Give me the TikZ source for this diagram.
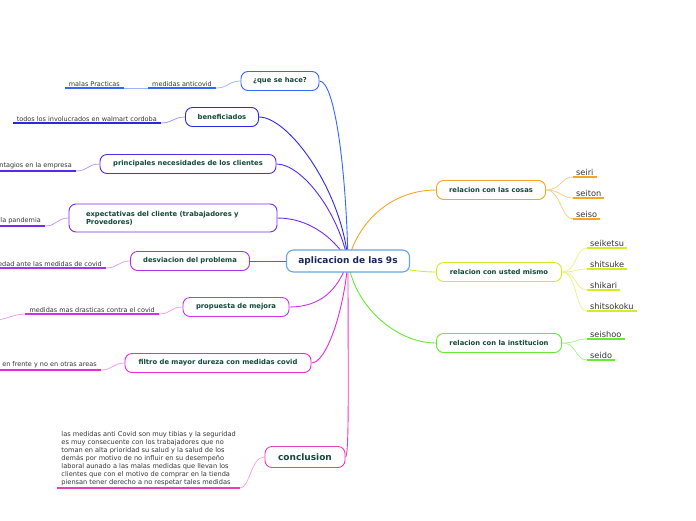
\documentclass[tikz,border=0pt]{standalone}
\usepackage{fontspec}
\setmainfont{DejaVu Sans}
\usetikzlibrary{backgrounds}
\definecolor{hubBlue}{RGB}{100,165,225}
\definecolor{hubText}{RGB}{25,40,90}
\definecolor{topicText}{RGB}{18,72,58}
\definecolor{leafGray}{RGB}{50,50,50}
\definecolor{brQue}{RGB}{51,102,255}
\definecolor{brBen}{RGB}{40,40,235}
\definecolor{brNec}{RGB}{90,40,235}
\definecolor{brExp}{RGB}{125,40,235}
\definecolor{brDes}{RGB}{170,50,235}
\definecolor{brPro}{RGB}{205,50,235}
\definecolor{brFil}{RGB}{235,40,220}
\definecolor{brCon}{RGB}{235,60,190}
\definecolor{brCos}{RGB}{245,166,35}
\definecolor{brUst}{RGB}{215,235,35}
\definecolor{brIns}{RGB}{100,235,50}
\tikzset{
  topic/.style={rectangle, rounded corners=7pt, draw, fill=white,
    line width=0.9pt, font=\fontsize{6.8}{8}\selectfont\bfseries,
    text=topicText, minimum height=19pt, inner sep=0pt, align=center},
  hub/.style={topic, draw=hubBlue, line width=1.1pt,
    font=\fontsize{9}{10}\selectfont\bfseries, text=hubText,
    minimum width=123pt, minimum height=22pt},
  leafL/.style={font=\fontsize{6.5}{7.5}\selectfont, text=leafGray,
    inner xsep=4pt, inner ysep=1.5pt, anchor=south east},
  leafR/.style={font=\fontsize{8.2}{9}\selectfont, text=leafGray,
    inner xsep=3pt, inner ysep=1.5pt, anchor=south west},
  ul/.style={line width=1.6pt},
  br/.style={line width=0.9pt},
  tw/.style={line width=0.7pt},
}

\begin{document}
\begin{tikzpicture}[x=1pt, y=-1pt]
\useasboundingbox (0,0) rectangle (696,520);

% central topic
\node[hub] (main) at (348,261) {aplicacion de las 9s};

% left topics
\node[topic, draw=brQue, minimum width=78pt] (que) at (280,81) {¿que se hace?};
\node[topic, draw=brBen, minimum width=73pt] (ben) at (222,117) {beneficiados};
\node[topic, draw=brNec, minimum width=176pt] (nec) at (188,164)
  {principales necesidades de los clientes};
\node[topic, draw=brExp, minimum width=208pt, minimum height=28pt,
      text width=174pt, align=left] (exp) at (173,218)
  {expectativas del cliente (trabajadores y\\Provedores)};
\node[topic, draw=brDes, minimum width=119pt] (des) at (190,261) {desviacion del problema};
\node[topic, draw=brPro, minimum width=106pt] (pro) at (236,307) {propuesta de mejora};
\node[topic, draw=brFil, minimum width=186pt] (fil) at (218,363)
  {filtro de mayor dureza con medidas covid};
\node[topic, draw=brCon, minimum width=80pt, minimum height=21pt,
      font=\fontsize{9}{10}\selectfont\bfseries] (con) at (305,457) {conclusion};

% right topics
\node[topic, draw=brCos, minimum width=109pt] (cos) at (491,190) {relacion con las cosas};
\node[topic, draw=brUst, minimum width=125pt] (ust) at (499,272) {relacion con usted mismo};
\node[topic, draw=brIns, minimum width=125pt] (ins) at (499,343) {relacion con la institucion};

% left leaves
\node[leafL] (queA) at (216,88) {medidas anticovid};
\node[leafL] (queB) at (124,88) {malas Practicas};
\node[leafL] (benA) at (161,123) {todos los involucrados en walmart cordoba};
\node[leafL] (necA) at (76,171) {ntagios en la empresa};
\node[leafL] (expA) at (45,226) {la pandemia};
\node[leafL] (desA) at (106,268) {edad ante las medidas de covid};
\node[leafL] (proA) at (159,314) {medidas mas drasticas contra el covid};
\coordinate (proOff) at (-6,320);
\node[leafL] (filA) at (101,370) {en frente y no en otras areas};
\node[leafL, font=\fontsize{6.6}{8.1}\selectfont, align=left] (conA) at (240,488)
  {las medidas anti Covid son muy tibias y la seguridad\\
   es muy consecuente con los trabajadores que no\\
   toman en alta prioridad su salud y la salud de los\\
   demás por motivo de no influir en su desempeño\\
   laboral aunado a las malas medidas que llevan los\\
   clientes que con el motivo de comprar en la tienda\\
   piensan tener derecho a no respetar tales medidas};

% right leaves
\node[leafR] (seiri) at (573,177) {seiri};
\node[leafR] (seiton) at (573,198) {seiton};
\node[leafR] (seiso) at (573,219) {seiso};
\node[leafR] (seiketsu) at (587,248) {seiketsu};
\node[leafR] (shitsuke) at (587,269) {shitsuke};
\node[leafR] (shikari) at (587,290) {shikari};
\node[leafR] (shitsokoku) at (587,311) {shitsokoku};
\node[leafR] (seishoo) at (587,339) {seishoo};
\node[leafR] (seido) at (587,360) {seido};

\begin{pgfonlayer}{background}
  % main branches
  \draw[br, brQue] (main.center) .. controls +(-2,-95) and +(15,0) .. (que.east);
  \draw[br, brBen] (main.center) .. controls +(-6,-70) and +(30,0) .. (ben.east);
  \draw[br, brNec] (main.center) .. controls +(-10,-50) and +(25,0) .. (nec.east);
  \draw[br, brExp] (main.center) .. controls +(-15,-25) and +(30,0) .. (exp.east);
  \draw[br, brDes] (main.center) -- (des.east);
  \draw[br, brPro] (main.center) .. controls +(-10,30) and +(30,0) .. (pro.east);
  \draw[br, brFil] (main.center) .. controls +(-4,50) and +(15,0) .. (fil.east);
  \draw[br, brCon] (main.center) .. controls +(0,110) and +(4,0) .. (con.east);
  \draw[br, brCos] (main.center) .. controls +(12,-45) and +(-40,0) .. (cos.west);
  \draw[br, brUst] (main.center) .. controls +(60,8) and +(-20,0) .. (ust.west);
  \draw[br, brIns] (main.center) .. controls +(6,45) and +(-40,0) .. (ins.west);

  % sub branches
  \draw[tw, brQue!50] (que.west) .. controls +(-12,0) and +(12,0) .. (queA.south east);
  \draw[tw, brQue!50] (queA.south west) -- (queB.south east);
  \draw[tw, brBen!50] (ben.west) .. controls +(-12,0) and +(12,0) .. (benA.south east);
  \draw[tw, brNec!50] (nec.west) .. controls +(-12,0) and +(12,0) .. (necA.south east);
  \draw[tw, brExp!50] (exp.west) .. controls +(-12,0) and +(12,0) .. (expA.south east);
  \draw[tw, brDes!50] (des.west) .. controls +(-12,0) and +(12,0) .. (desA.south east);
  \draw[tw, brPro!50] (pro.west) .. controls +(-12,0) and +(12,0) .. (proA.south east);
  \draw[tw, brPro!50] (proA.south west) .. controls +(-12,0) and +(12,0) .. (proOff);
  \draw[tw, brFil!50] (fil.west) .. controls +(-12,0) and +(12,0) .. (filA.south east);
  \draw[tw, brCon!50] (con.west) .. controls +(-14,0) and +(10,0) .. (conA.south east);
  \foreach \leaf in {seiri, seiton, seiso}
    \draw[tw, brCos!60] (cos.east) .. controls +(15,0) and +(-12,0) .. (\leaf.south west);
  \foreach \leaf in {seiketsu, shitsuke, shikari, shitsokoku}
    \draw[tw, brUst!60] (ust.east) .. controls +(15,0) and +(-12,0) .. (\leaf.south west);
  \foreach \leaf in {seishoo, seido}
    \draw[tw, brIns!60] (ins.east) .. controls +(15,0) and +(-12,0) .. (\leaf.south west);
\end{pgfonlayer}

% underlines
\draw[ul, brQue] (queA.south west) -- (queA.south east);
\draw[ul, brQue] (queB.south west) -- (queB.south east);
\draw[ul, brBen] (benA.south west) -- (benA.south east);
\draw[ul, brNec] (necA.south west) -- (necA.south east);
\draw[ul, brExp] (expA.south west) -- (expA.south east);
\draw[ul, brDes] (desA.south west) -- (desA.south east);
\draw[ul, brPro] (proA.south west) -- (proA.south east);
\draw[ul, brFil] (filA.south west) -- (filA.south east);
\draw[ul, brCon] (conA.south west) -- (conA.south east);
\foreach \leaf in {seiri, seiton, seiso}
  \draw[ul, brCos] (\leaf.south west) -- (\leaf.south east);
\foreach \leaf in {seiketsu, shitsuke, shikari, shitsokoku}
  \draw[ul, brUst] (\leaf.south west) -- (\leaf.south east);
\foreach \leaf in {seishoo, seido}
  \draw[ul, brIns] (\leaf.south west) -- (\leaf.south east);

\end{tikzpicture}
\end{document}
